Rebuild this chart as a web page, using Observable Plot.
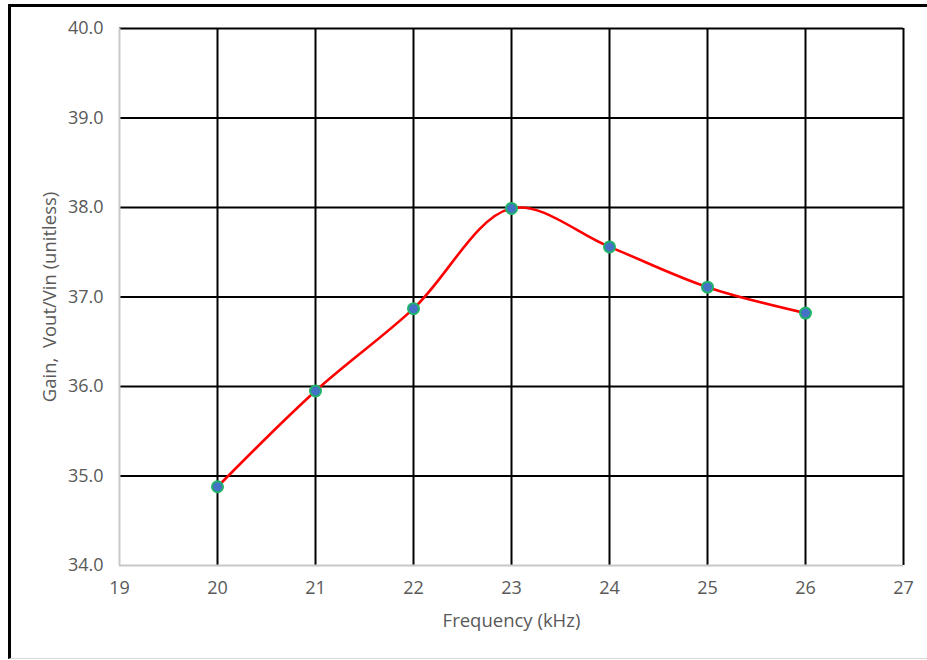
<!DOCTYPE html>
<html>
<head>
<meta charset="utf-8">
<script src="https://cdn.jsdelivr.net/npm/d3@7"></script>
<script src="https://cdn.jsdelivr.net/npm/@observablehq/plot@0.6"></script>
<style>
  html, body { margin: 0; padding: 0; background: #fff; }
  #wrap { position: relative; width: 927px; height: 660px; overflow: hidden; }
  #frame { position: absolute; left: 8px; top: 4px; width: 930px; height: 651px;
           border-left: 3px solid #000; border-top: 3px solid #000; border-bottom: 1px solid #d9d9d9;
           pointer-events: none; }
  svg { position: absolute; left: 0; top: 0; }
</style>
</head>
<body>
<div id="wrap"><div id="frame"></div></div>
<script>
const frequency = [20, 21, 22, 23, 24, 25, 26];
const gain = [34.88, 35.95, 36.87, 37.99, 37.56, 37.11, 36.82];
const xTicks = [19, 20, 21, 22, 23, 24, 25, 26, 27];
const yTicks = [34, 35, 36, 37, 38, 39, 40];
const xTitle = "Frequency (kHz)";
const yTitle = "Gain,  Vout/Vin (unitless)";

const data = frequency.map((f, i) => ({f, g: gain[i]}));
const font = "Open Sans, Liberation Sans, sans-serif";
const grey = "#595959";

const chart = Plot.plot({
  width: 927,
  height: 660,
  marginLeft: 119,
  marginRight: 24,
  marginTop: 28,
  marginBottom: 95,
  style: {fontFamily: font, fontSize: "18px", color: grey, background: "transparent"},
  x: {domain: [19, 27], ticks: xTicks},
  y: {domain: [34, 40], ticks: yTicks},
  marks: [
    Plot.gridX(xTicks.filter(d => d > 19), {stroke: "#000", strokeOpacity: 1, strokeWidth: 2}),
    Plot.gridY(yTicks.filter(d => d > 34), {stroke: "#000", strokeOpacity: 1, strokeWidth: 2}),
    Plot.ruleY([34], {stroke: "#c8c8c8", strokeWidth: 2}),
    Plot.ruleX([19], {stroke: "#c8c8c8", strokeWidth: 2}),
    Plot.axisX(xTicks, {tickSize: 0, tickPadding: 16, label: null, fill: grey, fontSize: 18}),
    Plot.axisY(yTicks, {tickSize: 0, tickPadding: 16, tickFormat: d3.format(".1f"), label: null, fill: grey, fontSize: 18}),
    Plot.line(data, {x: "f", y: "g", stroke: "#ff0000", strokeWidth: 2.6, curve: "catmull-rom"}),
    Plot.dot(data, {x: "f", y: "g", r: 5.5, fill: "#4472c4", stroke: "#1fb46a", strokeWidth: 2}),
    Plot.text([xTitle], {frameAnchor: "bottom", dy: 61, fill: grey, fontSize: 18.5, textAnchor: "middle", text: d => d}),
    Plot.text([yTitle], {frameAnchor: "left", dx: -69, rotate: -90, fill: grey, fontSize: 18.5, textAnchor: "middle", text: d => d})
  ]
});
document.getElementById("wrap").insertBefore(chart, document.getElementById("frame"));
</script>
</body>
</html>
